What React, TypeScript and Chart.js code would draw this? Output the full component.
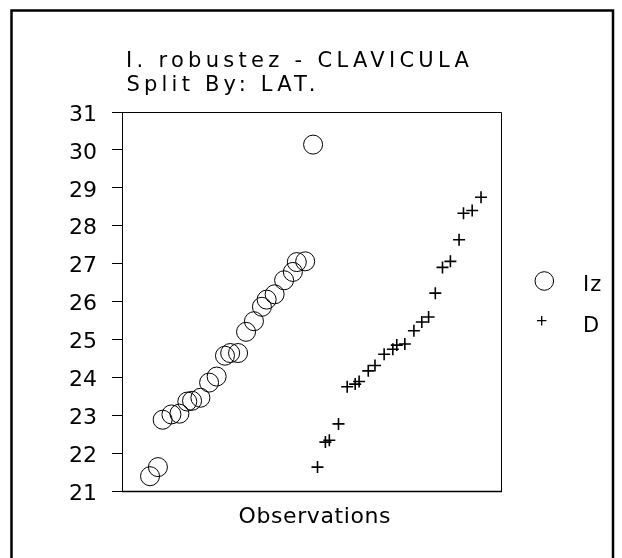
import React, { useEffect, useRef } from "react";
import { Chart, registerables } from "chart.js";

Chart.register(...registerables);

const titleLines = ["I. robustez - CLAVICULA", "Split By: LAT."];
const xAxisLabel = "Observations";
const seriesNames = ["Iz", "D"];

const yTicks = [21, 22, 23, 24, 25, 26, 27, 28, 29, 30, 31];

const izObs = [3.55, 4.55, 5.15, 6.26, 7.27, 8.27, 8.87, 9.93, 11.03, 11.99, 13.04, 13.7, 14.7, 15.71, 16.71, 17.72, 18.32, 19.33, 20.53, 21.64, 22.14, 23.2, 24.2];
const izValues = [21.39, 21.63, 22.88, 23.02, 23.04, 23.36, 23.38, 23.46, 23.86, 24.02, 24.57, 24.64, 24.64, 25.2, 25.48, 25.86, 26.05, 26.19, 26.56, 26.78, 27.04, 27.06, 30.14];

const dObs = [24.76, 25.76, 26.26, 27.42, 28.52, 29.53, 30.03, 31.19, 32.04, 33.2, 34.3, 34.8, 35.82, 36.97, 37.97, 38.83, 39.68, 40.59, 41.59, 42.69, 43.25, 44.35, 45.47];
const dValues = [21.63, 22.29, 22.34, 22.77, 23.75, 23.82, 23.89, 24.17, 24.31, 24.61, 24.74, 24.85, 24.88, 25.23, 25.46, 25.59, 26.22, 26.9, 27.06, 27.63, 28.33, 28.4, 28.75];

const FONT = '"DejaVu Sans", Verdana, sans-serif';

function spacedText(ctx: CanvasRenderingContext2D, text: string, x: number, y: number, ls: number) {
  const c: any = ctx;
  if ("letterSpacing" in c) {
    c.letterSpacing = ls + "px";
    ctx.fillText(text, x, y);
    c.letterSpacing = "0px";
  } else {
    let cx = x;
    for (const ch of text) {
      ctx.fillText(ch, cx, y);
      cx += ctx.measureText(ch).width + ls;
    }
  }
}

const decorPlugin = {
  id: "decor",
  afterDraw(chart: any) {
    const ctx: CanvasRenderingContext2D = chart.ctx;
    const a = chart.chartArea;
    ctx.save();
    // outer frame (left, top, right)
    ctx.strokeStyle = "#000";
    ctx.lineWidth = 2.5;
    ctx.beginPath();
    ctx.moveTo(11.5, 570);
    ctx.lineTo(11.5, 10.5);
    ctx.lineTo(613, 10.5);
    ctx.lineTo(613, 570);
    ctx.stroke();
    // plot box top / right / bottom
    ctx.lineWidth = 1;
    ctx.beginPath();
    ctx.moveTo(Math.round(a.left) + 0.5, Math.round(a.top) + 0.5);
    ctx.lineTo(Math.round(a.right) + 0.5, Math.round(a.top) + 0.5);
    ctx.lineTo(Math.round(a.right) + 0.5, Math.round(a.bottom) + 0.5);
    ctx.stroke();
    ctx.lineWidth = 1.6;
    ctx.beginPath();
    ctx.moveTo(a.left, Math.round(a.bottom) + 0.5);
    ctx.lineTo(Math.round(a.right) + 1, Math.round(a.bottom) + 0.5);
    ctx.stroke();

    // title
    ctx.fillStyle = "#000";
    ctx.textAlign = "left";
    ctx.textBaseline = "alphabetic";
    ctx.font = `21px ${FONT}`;
    spacedText(ctx, titleLines[0], 126, 67, 4.3);
    spacedText(ctx, titleLines[1], 126.5, 91, 4.2);

    // x axis label
    ctx.font = `22px ${FONT}`;
    ctx.textAlign = "left";
    const ls = 0.6;
    const w = ctx.measureText(xAxisLabel).width + ls * (xAxisLabel.length - 1);
    spacedText(ctx, xAxisLabel, (a.left + a.right) / 2 + 3 - w / 2, 522.5, ls);

    // legend
    const ds = chart.data.datasets;
    ctx.font = `21px ${FONT}`;
    ctx.textAlign = "left";
    ctx.strokeStyle = "#000";
    ctx.lineWidth = 1;
    ctx.beginPath();
    ctx.arc(544.3, 281, 9.3, 0, Math.PI * 2);
    ctx.stroke();
    spacedText(ctx, ds[0].label, 583, 291, 1);
    ctx.lineWidth = 1.3;
    ctx.beginPath();
    ctx.moveTo(537, 320.7);
    ctx.lineTo(546.4, 320.7);
    ctx.moveTo(541.7, 316);
    ctx.lineTo(541.7, 325.4);
    ctx.stroke();
    spacedText(ctx, ds[1].label, 583, 332, 1);
    ctx.restore();
  },
};

export default function App() {
  const ref = useRef<HTMLCanvasElement | null>(null);
  useEffect(() => {
    if (!ref.current) return;
    const chart = new Chart(ref.current, {
      type: "scatter",
      data: {
        datasets: [
          {
            label: seriesNames[0],
            data: izObs.map((x, i) => ({ x, y: izValues[i] })),
            pointStyle: "circle",
            pointRadius: 9.5,
            pointBorderWidth: 1,
            borderColor: "#000",
            backgroundColor: "rgba(0,0,0,0)",
            showLine: false,
          },
          {
            label: seriesNames[1],
            data: dObs.map((x, i) => ({ x, y: dValues[i] })),
            pointStyle: "cross",
            pointRadius: 6,
            pointBorderWidth: 1.6,
            borderColor: "#000",
            backgroundColor: "#000",
            showLine: false,
          },
        ],
      },
      options: {
        responsive: false,
        animation: false,
        events: [],
        layout: { padding: { top: 112, right: 121, bottom: 67, left: 0 } },
        plugins: {
          legend: { display: false },
          title: { display: false },
          tooltip: { enabled: false },
        },
        scales: {
          x: {
            type: "linear",
            min: 0,
            max: 48,
            display: false,
          },
          y: {
            type: "linear",
            min: yTicks[0],
            max: yTicks[yTicks.length - 1],
            afterBuildTicks: (s: any) => {
              s.ticks = yTicks.map((v) => ({ value: v }));
            },
            afterFit: (s: any) => {
              s.width = 122;
              s.paddingTop = 0;
              s.paddingBottom = 0;
            },
            ticks: {
              color: "#000",
              font: { family: FONT, size: 22 },
              padding: 15,
              labelOffset: 3,
            },
            grid: {
              drawOnChartArea: false,
              drawTicks: true,
              tickLength: 10,
              color: "#000",
              lineWidth: 1,
            },
            border: { display: true, color: "#000", width: 1 },
          },
        },
      },
      plugins: [decorPlugin],
    });
    return () => chart.destroy();
  }, []);
  return (
    <canvas
      ref={ref}
      width={622}
      height={558}
      style={{ position: "absolute", left: 0, top: 0, width: 622, height: 558, background: "#fff" }}
    />
  );
}
